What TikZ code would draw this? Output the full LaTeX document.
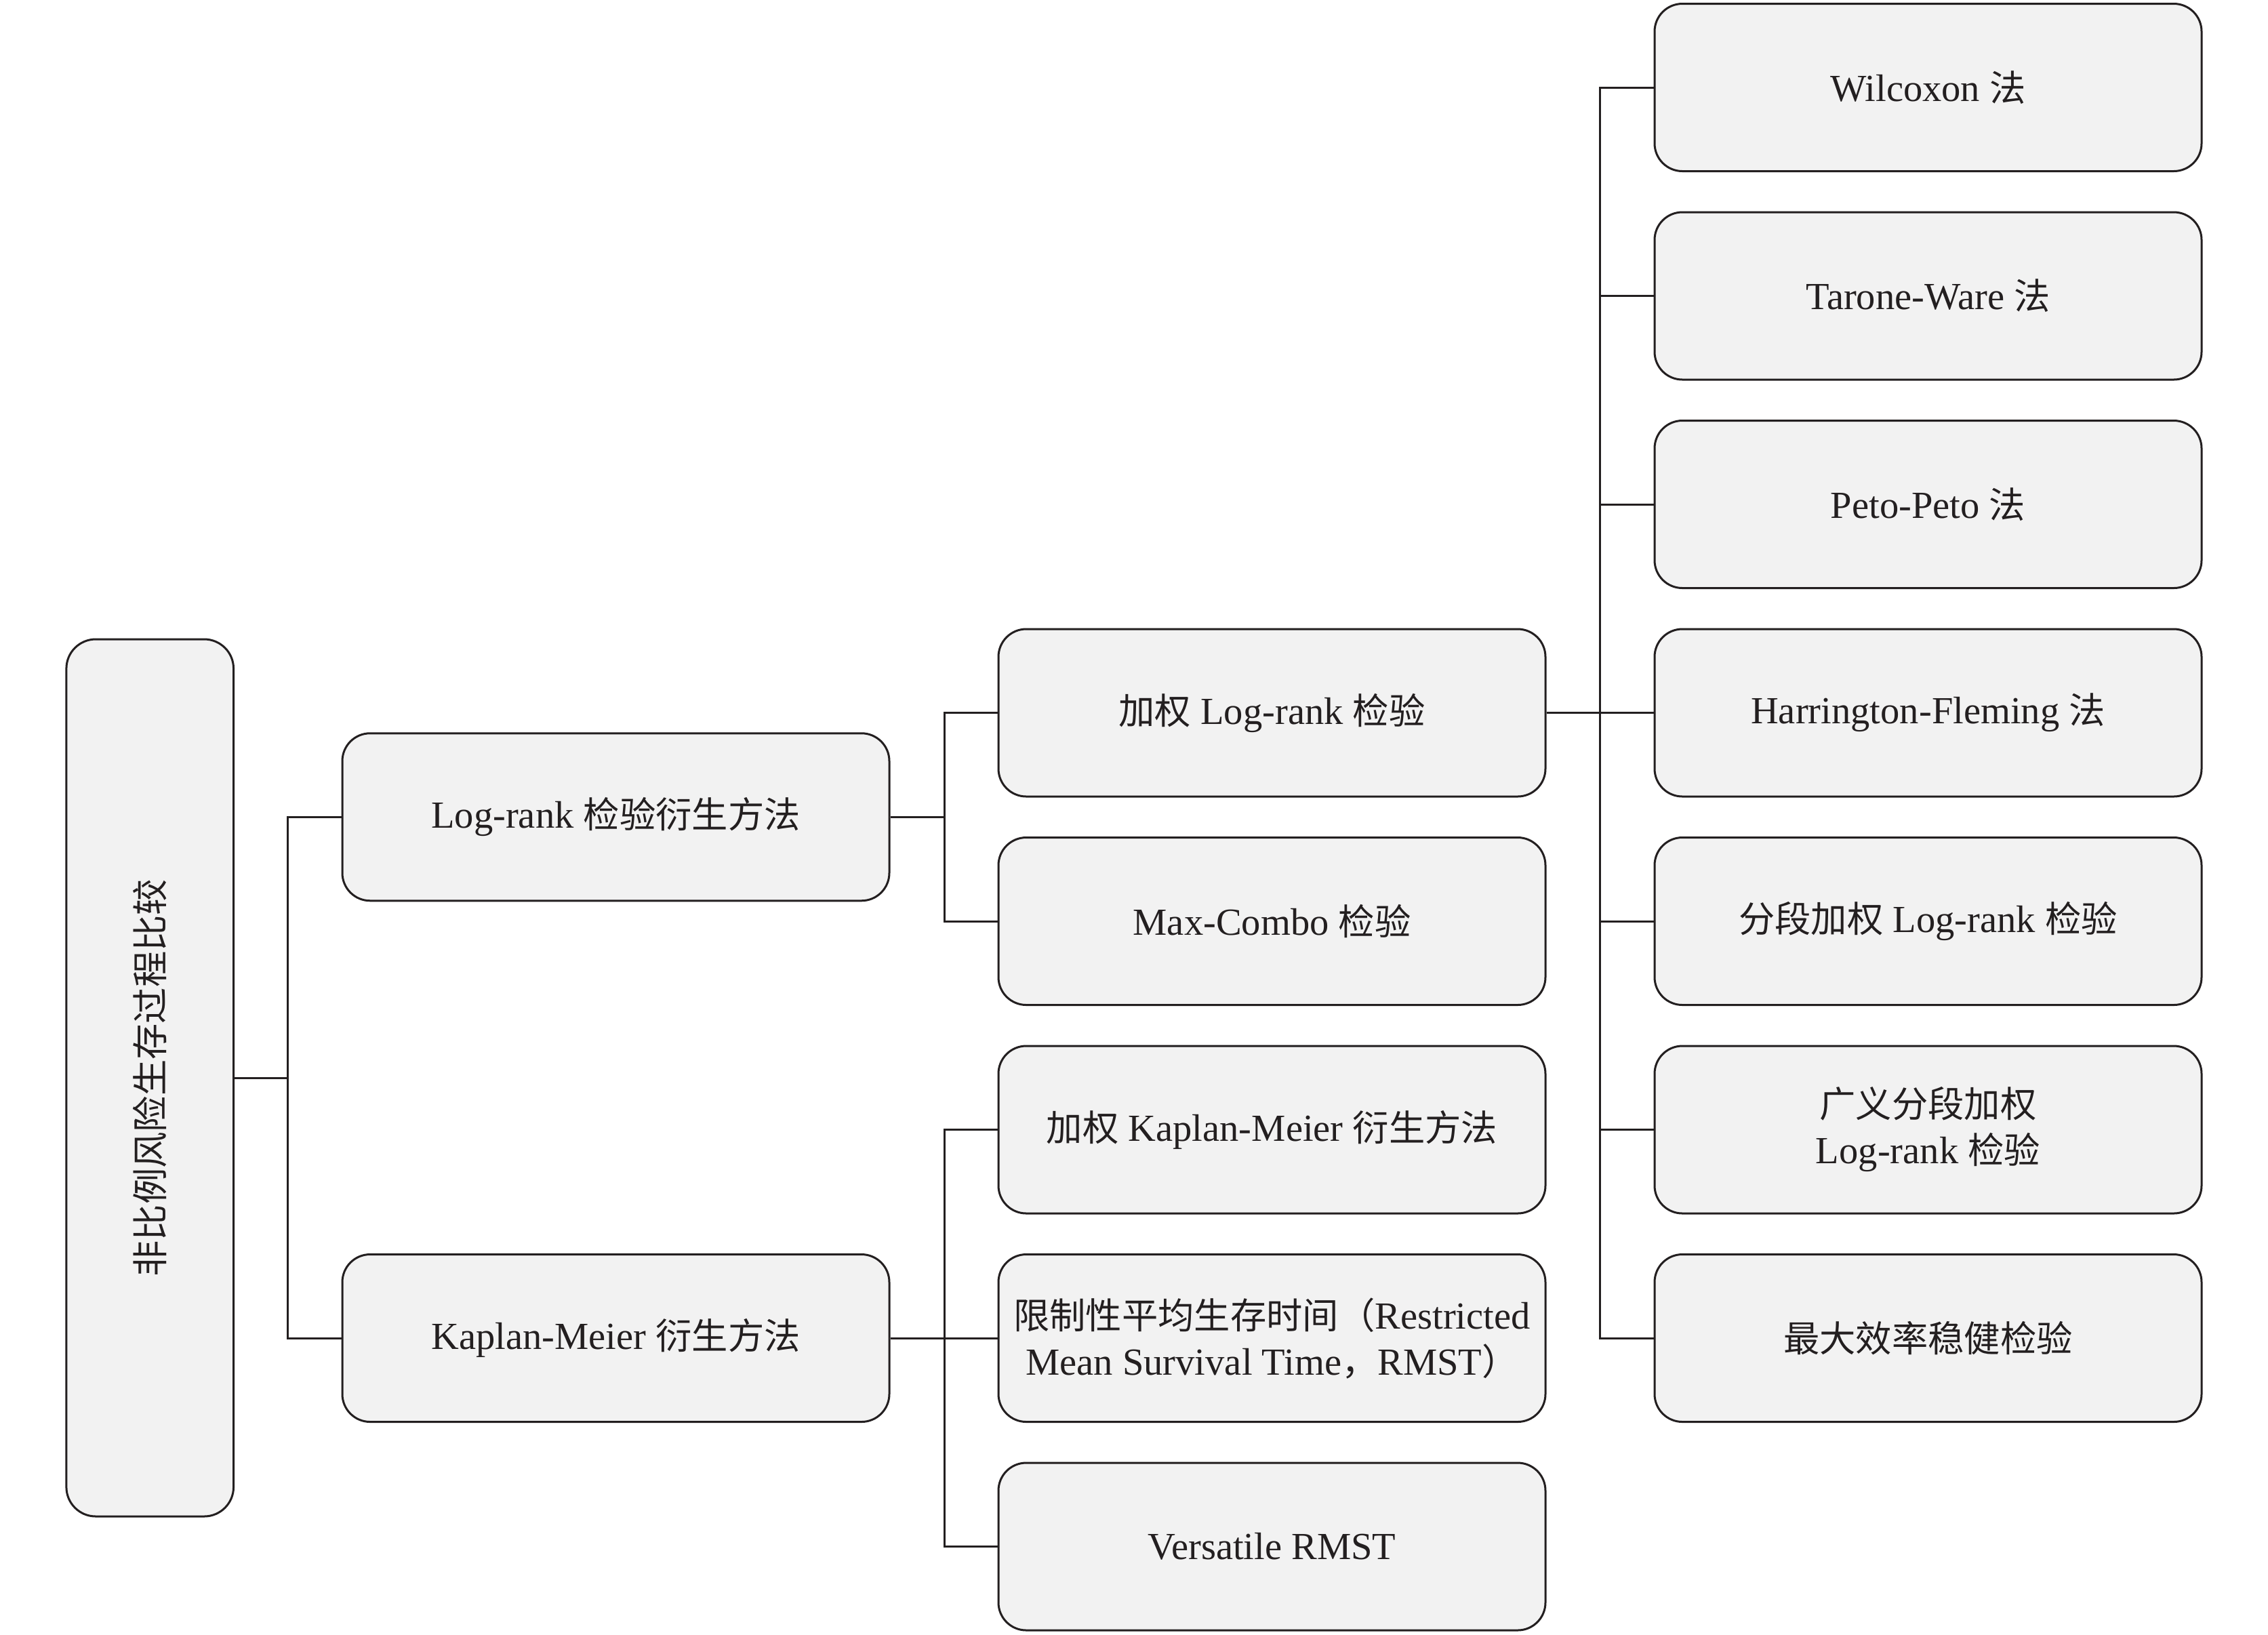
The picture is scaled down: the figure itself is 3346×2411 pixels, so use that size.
\documentclass[tikz,border=0pt]{standalone}
\usepackage{fontspec}
\usepackage{graphicx}
\setmainfont{Liberation Serif}[Scale=1.06]
\newfontfamily\cjk{Noto Sans CJK SC}
\newcommand\zh[1]{{\cjk #1}}
\definecolor{boxfill}{HTML}{F2F2F2}
\definecolor{ink}{HTML}{231F20}
\begin{document}
\begin{tikzpicture}[x=0.3pt,y=-0.3pt,
  box/.style={draw=ink,fill=boxfill,line width=0.9pt,rounded corners=12.3pt,
    minimum width=242.1pt,minimum height=74.1pt,inner sep=0pt,align=center,
    font=\fontsize{16}{20.4}\selectfont,text=ink},
  rootbox/.style={box,minimum width=74pt,minimum height=388.2pt,rounded corners=13pt},
  link/.style={draw=ink,line width=0.9pt}]
\useasboundingbox (0,0) rectangle (3346,2411);

% root
\node[rootbox] (root) at (221.25,1590) {\rotatebox{90}{\zh{非比例风险生存过程比较}}};

% level 1
\node[box] (lr) at (908.5,1205.25) {Log-rank \zh{检验衍生方法}};
\node[box] (km) at (908.5,1974) {Kaplan-Meier \zh{衍生方法}};

% level 2
\node[box] (wlr)  at (1876.5,1051.5) {\zh{加权} Log-rank \zh{检验}};
\node[box] (mc)   at (1876.5,1359)   {Max-Combo \zh{检验}};
\node[box] (wkm)  at (1876.5,1666.5) {\zh{加权} Kaplan-Meier \zh{衍生方法}};
\node[box] (rmst) at (1876.5,1974)   {\zh{限制性平均生存时间（}Restricted\\Mean Survival Time\zh{，}RMST\zh{）}};
\node[box] (vr)   at (1876.5,2281.5) {Versatile RMST};

% level 3
\node[box] (wil) at (2844.5,129)    {Wilcoxon \zh{法}};
\node[box] (tw)  at (2844.5,436.5)  {Tarone-Ware \zh{法}};
\node[box] (pp)  at (2844.5,744)    {Peto-Peto \zh{法}};
\node[box] (hf)  at (2844.5,1051.5) {Harrington-Fleming \zh{法}};
\node[box] (slr) at (2844.5,1359)   {\zh{分段加权} Log-rank \zh{检验}};
\node[box] (gslr) at (2844.5,1666.5) {\zh{广义分段加权}\\Log-rank \zh{检验}};
\node[box] (mer) at (2844.5,1974)   {\zh{最大效率稳健检验}};

% junctions
\coordinate (j1) at (424,1590);
\coordinate (j2) at (1393,1205.25);
\coordinate (j3) at (1393,1974);
\coordinate (j4) at (2360,1051.5);

% connectors
\draw[link] (root.east) -- (j1);
\draw[link] (lr.west) -| (j1);
\draw[link] (km.west) -| (j1);

\draw[link] (lr.east) -- (j2);
\draw[link] (wlr.west) -| (j2);
\draw[link] (mc.west) -| (j2);

\draw[link] (km.east) -- (j3);
\draw[link] (wkm.west) -| (j3);
\draw[link] (rmst.west) -| (j3);
\draw[link] (vr.west) -| (j3);

\draw[link] (wlr.east) -- (j4);
\draw[link] (wil.west) -| (j4);
\draw[link] (tw.west) -| (j4);
\draw[link] (pp.west) -| (j4);
\draw[link] (hf.west) -| (j4);
\draw[link] (slr.west) -| (j4);
\draw[link] (gslr.west) -| (j4);
\draw[link] (mer.west) -| (j4);
\end{tikzpicture}
\end{document}
